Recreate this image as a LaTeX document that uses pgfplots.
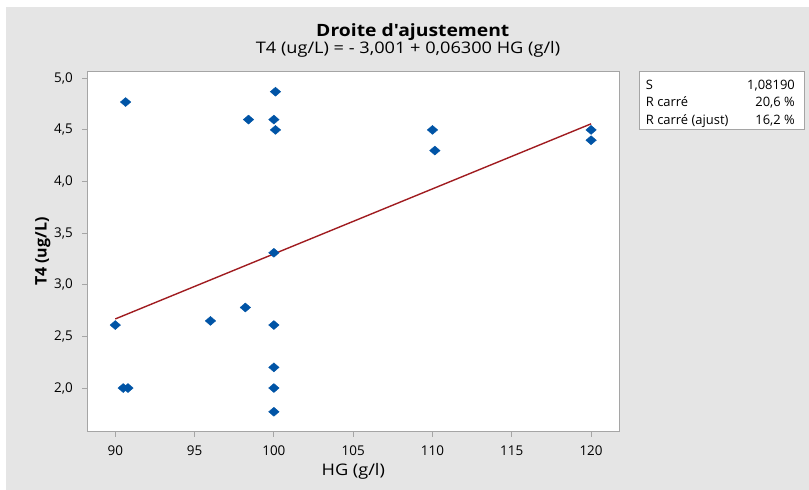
\documentclass[border=0pt]{standalone}
\usepackage{fontspec}
\setmainfont{Open Sans}
\newfontfamily\widefont[FakeStretch=1.14]{Open Sans}
\usepackage{pgfplots}
\pgfplotsset{compat=1.18}
\definecolor{bggray}{RGB}{229,229,229}
\definecolor{axgray}{RGB}{165,165,165}
\definecolor{ptblue}{RGB}{0,84,166}
\definecolor{fitred}{RGB}{160,28,32}

\begin{document}
\begin{tikzpicture}[x=1bp,y=1bp]
% page background
\fill[white] (-87.3,-58.3) rectangle (721.7,431.7);
\fill[bggray] (-81.3,-58.3) rectangle (721.7,424.7);

% titles
\node[anchor=base, inner sep=0pt, font=\widefont\fontsize{17}{19}\selectfont\bfseries] at (325.5,395) {Droite d\textquotesingle ajustement};
\node[anchor=base, inner sep=0pt, font=\widefont\fontsize{16}{18}\selectfont] at (320.7,378.4) {T4 (ug/L) = - 3,001 + 0,06300 HG (g/l)};

\begin{axis}[
    at={(0,0)}, anchor=south west,
    scale only axis,
    width=532bp, height=360bp,
    xmin=88.235, xmax=121.78,
    ymin=1.577, ymax=5.064,
    xtick={90,95,...,120},
    ytick={2,2.5,...,5},
    axis background/.style={fill=white},
    axis line style={axgray, line width=0.9pt},
    tick style={axgray, line width=0.9pt},
    tick align=outside,
    major tick length=5bp,
    xtick pos=bottom, ytick pos=left,
    /pgf/number format/assume math mode=true,
    tick label style={font=\fontsize{13.5}{15}\selectfont, inner sep=0pt},
    xticklabel style={anchor=base, yshift=-19bp},
    yticklabel style={anchor=east, xshift=-9.3bp,
        /pgf/number format/.cd, use comma, fixed, fixed zerofill, precision=1},
    xlabel={HG (g/l)},
    ylabel={T4 (ug/L)},
    xlabel style={at={(axis description cs:0.5,-0.1203)}, anchor=base, inner sep=0pt, font=\widefont\fontsize{16}{18}\selectfont},
    ylabel style={at={(axis description cs:-0.0763,0.5)}, anchor=base, inner sep=0pt, font=\fontsize{16}{18}\selectfont\bfseries},
    clip=false,
]
\addplot[only marks, mark=diamond*, mark size=4.5bp, color=ptblue,
    mark options={xscale=1.55, draw=ptblue, fill=ptblue}] coordinates {
    (90.65,4.77) (100.1,4.87) (98.4,4.6) (100,4.6) (100.1,4.5)
    (100,3.31) (98.2,2.78) (96,2.65) (90,2.61) (100,2.61)
    (100,2.2) (90.5,2.0) (90.8,2.0) (100,2.0) (100,1.77)
    (110,4.5) (110.15,4.3) (120,4.5) (120,4.4)
};
\addplot[fitred, line width=1.4pt, no marks] coordinates {
    (90,2.669) (120,4.559)
};
\end{axis}

% stats box
\draw[axgray, line width=0.9pt, fill=white] (551.7,302.7) rectangle (716.7,360);
\begin{scope}[font=\fontsize{13}{15}\selectfont]
\node[anchor=base west, inner sep=0pt] at (558.4,342.2) {S};
\node[anchor=base east, inner sep=0pt] at (707.7,342.2) {1,08190};
\node[anchor=base west, inner sep=0pt] at (558.4,325.2) {R carré};
\node[anchor=base east, inner sep=0pt] at (707.7,325.2) {20,6 \%};
\node[anchor=base west, inner sep=0pt] at (558.4,307.2) {R carré (ajust)};
\node[anchor=base east, inner sep=0pt] at (707.7,307.2) {16,2 \%};
\end{scope}

\pgfresetboundingbox
\useasboundingbox (-87.3,-58.3) rectangle (721.7,431.7);
\end{tikzpicture}
\end{document}
